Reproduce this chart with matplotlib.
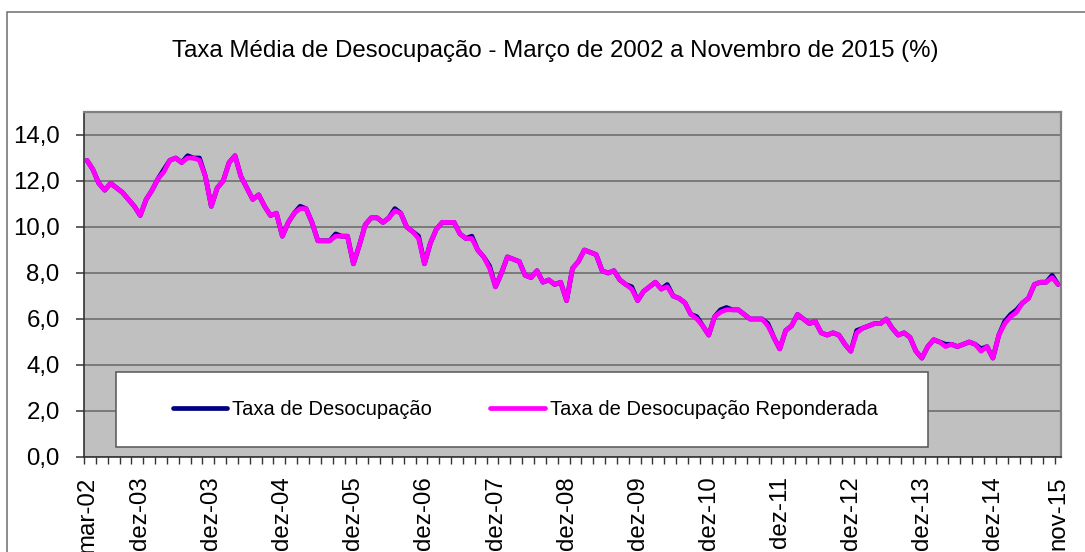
import matplotlib
matplotlib.use('Agg')
import matplotlib.pyplot as plt
from matplotlib.patches import Rectangle
from matplotlib.ticker import FuncFormatter

plt.rcParams['font.family'] = ['Liberation Sans', 'DejaVu Sans']

# ---------------- data ----------------
title = "Taxa Média de Desocupação - Março de 2002 a Novembro de 2015 (%)"
series_names = ["Taxa de Desocupação", "Taxa de Desocupação Reponderada"]

month_abbr = ["jan", "fev", "mar", "abr", "mai", "jun", "jul", "ago", "set", "out", "nov", "dez"]
categories = [f"{m}-{y % 100:02d}" for y in range(2002, 2016) for m in month_abbr]
categories = categories[categories.index("mar-02"):categories.index("nov-15") + 1]

desocupacao = [
    12.9, 12.5, 11.9, 11.6, 11.9, 11.7, 11.5, 11.2, 10.9, 10.5,                # 2002 mar-dez
    11.2, 11.6, 12.1, 12.5, 12.9, 13.0, 12.8, 13.1, 13.0, 13.0, 12.2, 10.9,    # 2003
    11.7, 12.0, 12.8, 13.1, 12.2, 11.7, 11.2, 11.4, 10.9, 10.5, 10.6, 9.6,     # 2004
    10.2, 10.6, 10.9, 10.8, 10.2, 9.4, 9.4, 9.4, 9.7, 9.6, 9.6, 8.4,           # 2005
    9.2, 10.1, 10.4, 10.4, 10.2, 10.4, 10.8, 10.6, 10.0, 9.8, 9.6, 8.4,        # 2006
    9.3, 9.9, 10.2, 10.2, 10.2, 9.7, 9.5, 9.6, 9.0, 8.7, 8.3, 7.4,             # 2007
    8.0, 8.7, 8.6, 8.5, 7.9, 7.8, 8.1, 7.6, 7.7, 7.5, 7.6, 6.8,                # 2008
    8.2, 8.5, 9.0, 8.9, 8.8, 8.1, 8.0, 8.1, 7.7, 7.5, 7.4, 6.8,                # 2009
    7.2, 7.4, 7.6, 7.3, 7.5, 7.0, 6.9, 6.7, 6.2, 6.1, 5.7, 5.3,                # 2010
    6.1, 6.4, 6.5, 6.4, 6.4, 6.2, 6.0, 6.0, 6.0, 5.8, 5.2, 4.7,                # 2011
    5.5, 5.7, 6.2, 6.0, 5.8, 5.9, 5.4, 5.3, 5.4, 5.3, 4.9, 4.6,                # 2012
    5.5, 5.6, 5.7, 5.8, 5.8, 6.0, 5.6, 5.3, 5.4, 5.2, 4.6, 4.3,                # 2013
    4.8, 5.1, 5.0, 4.9, 4.9, 4.8, 4.9, 5.0, 4.9, 4.7, 4.8, 4.3,                # 2014
    5.3, 5.9, 6.2, 6.4, 6.7, 6.9, 7.5, 7.6, 7.6, 7.9, 7.5,                     # 2015 jan-nov
]

reponderada = [
    12.9, 12.5, 11.9, 11.6, 11.9, 11.7, 11.5, 11.2, 10.9, 10.5,                # 2002 mar-dez
    11.2, 11.6, 12.1, 12.4, 12.9, 13.0, 12.8, 13.0, 13.0, 12.9, 12.2, 10.9,    # 2003
    11.7, 12.0, 12.8, 13.1, 12.2, 11.7, 11.2, 11.4, 10.9, 10.5, 10.6, 9.6,     # 2004
    10.2, 10.6, 10.8, 10.8, 10.2, 9.4, 9.4, 9.4, 9.6, 9.6, 9.6, 8.4,           # 2005
    9.2, 10.1, 10.4, 10.4, 10.2, 10.4, 10.7, 10.6, 10.0, 9.8, 9.5, 8.4,        # 2006
    9.3, 9.9, 10.2, 10.2, 10.2, 9.7, 9.5, 9.5, 9.0, 8.7, 8.2, 7.4,             # 2007
    8.0, 8.7, 8.6, 8.5, 7.9, 7.8, 8.1, 7.6, 7.7, 7.5, 7.6, 6.8,                # 2008
    8.2, 8.5, 9.0, 8.9, 8.8, 8.1, 8.0, 8.1, 7.7, 7.5, 7.3, 6.8,                # 2009
    7.2, 7.4, 7.6, 7.3, 7.4, 7.0, 6.9, 6.7, 6.2, 6.0, 5.7, 5.3,                # 2010
    6.1, 6.3, 6.4, 6.4, 6.4, 6.2, 6.0, 6.0, 6.0, 5.7, 5.2, 4.7,                # 2011
    5.5, 5.7, 6.2, 6.0, 5.8, 5.9, 5.4, 5.3, 5.4, 5.3, 4.9, 4.6,                # 2012
    5.4, 5.6, 5.7, 5.8, 5.8, 6.0, 5.6, 5.3, 5.4, 5.2, 4.6, 4.3,                # 2013
    4.8, 5.1, 5.0, 4.8, 4.9, 4.8, 4.9, 5.0, 4.9, 4.6, 4.8, 4.3,                # 2014
    5.3, 5.8, 6.1, 6.3, 6.7, 6.9, 7.5, 7.6, 7.6, 7.8, 7.5,                     # 2015 jan-nov
]

# months where the axis shows a label, and the text shown there (as printed)
label_months = ["mar-02", "dez-02", "dez-03", "dez-04", "dez-05", "dez-06", "dez-07",
                "dez-08", "dez-09", "dez-10", "dez-11", "dez-12", "dez-13", "dez-14", "nov-15"]
label_texts = ["mar-02", "dez-03", "dez-03", "dez-04", "dez-05", "dez-06", "dez-07",
               "dez-08", "dez-09", "dez-10", "dez-11", "dez-12", "dez-13", "dez-14", "nov-15"]

y_ticks = [0, 2, 4, 6, 8, 10, 12, 14]

# ---------------- figure ----------------
W, H = 1085, 552
fig = plt.figure(figsize=(W / 100, H / 100), dpi=100)
fig.patch.set_facecolor('white')

# outer chart-area border (only top & left visible in the crop)
fig.add_artist(Rectangle((7 / W, -0.1), 1.2, (1 - 12 / H) + 0.1, transform=fig.transFigure,
                         fill=False, edgecolor='#6e6e6e', lw=1.1))

fig.text(555 / W, 1 - 51 / H, title, ha='center', va='center', fontsize=17.3, color='black')

ax = fig.add_axes([84 / W, 1 - 457 / H, (1061 - 84) / W, (457 - 112) / H])
ax.set_facecolor('#c0c0c0')

n = len(categories)
x = list(range(n))
l1, = ax.plot(x, desocupacao, color='#000080', lw=3.4, solid_joinstyle='round',
              solid_capstyle='round', zorder=3)
l2, = ax.plot(x, reponderada, color='#ff00ff', lw=3.4, solid_joinstyle='round',
              solid_capstyle='round', zorder=4)

ax.set_xlim(-0.5, n - 0.5)
ax.set_ylim(0, 15)

# y axis
ax.set_yticks(y_ticks)
ax.yaxis.set_major_formatter(FuncFormatter(lambda v, p: f"{v:.1f}".replace('.', ',')))
ax.tick_params(axis='y', length=6, width=1.1, color='#333333', pad=11.5, labelsize=17.3)
ax.yaxis.grid(True, color='#7a7a7a', lw=1.4)
ax.set_axisbelow(True)

# x axis: tick marks at category boundaries every 2 months, labels at chosen months
bounds = [b - 0.5 for b in range(0, n, 2)]
ax.set_xticks(bounds)
ax.set_xticklabels([])
ax.tick_params(axis='x', which='major', length=5, width=1.0, color='#333333')
label_pos = [categories.index(m) for m in label_months]
ax.set_xticks(label_pos, minor=True)
ax.set_xticklabels(label_texts, minor=True, rotation=90, fontsize=17.3)
ax.tick_params(axis='x', which='minor', length=0, pad=14)

for s in ('left', 'bottom'):
    ax.spines[s].set_color('#333333')
    ax.spines[s].set_linewidth(1.2)
for s in ('top', 'right'):
    ax.spines[s].set_color('#808080')
    ax.spines[s].set_linewidth(1.6)

# legend box
ax.add_patch(Rectangle((116 / W, 1 - 447 / H), 812 / W, 75 / H, transform=fig.transFigure,
                       facecolor='white', edgecolor='#555555', lw=1.1, zorder=6, clip_on=False))
leg = ax.legend([l1, l2], series_names, loc='center',
                bbox_to_anchor=(525 / W, 1 - 409.5 / H), bbox_transform=fig.transFigure,
                ncol=2, frameon=False, fontsize=14.5, handlelength=2.7,
                handletextpad=0.25, columnspacing=2.9)
leg.set_zorder(7)

fig.savefig('out.png', dpi=100, facecolor='white')
